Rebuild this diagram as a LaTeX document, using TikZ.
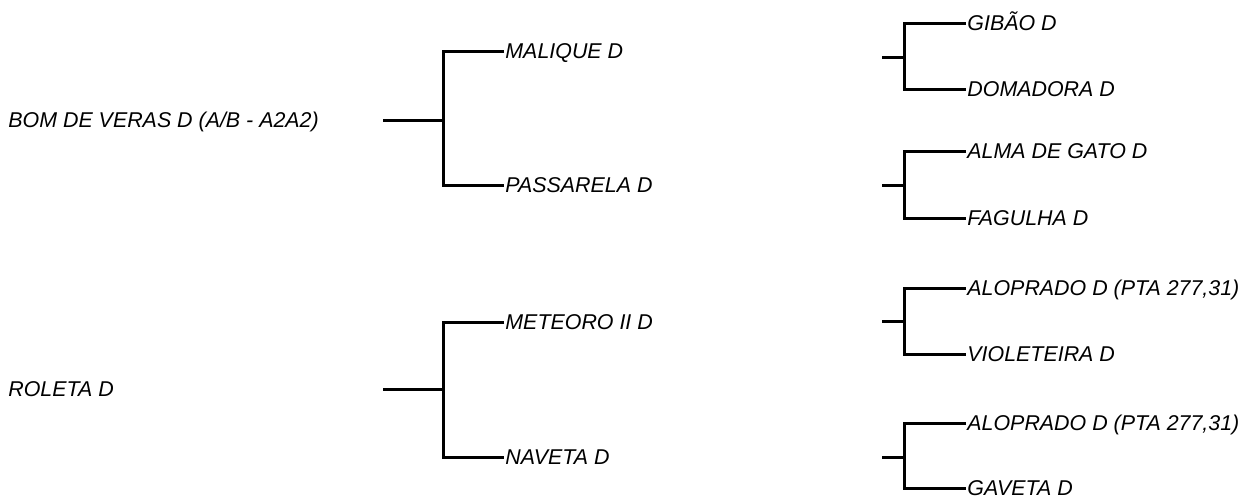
\documentclass[tikz,border=0pt]{standalone}
\usepackage{fontspec}
\setmainfont{Liberation Sans}

\tikzset{
  lbl/.style={anchor=west, inner sep=0.5pt, text height=7.7pt, text depth=0pt,
    font=\fontsize{10.7}{12}\selectfont\itshape},
  brk/.style={line width=1.5pt, color=black}
}

\begin{document}
\begin{tikzpicture}[x=0.5pt,y=-0.5pt]
  \useasboundingbox (0,0) rectangle (1243,498);

  % sires
  \node [lbl] (bom) at (7,120) {BOM DE VERAS D (A/B - A2A2)};
  \node [lbl] (roleta) at (7,389) {ROLETA D};

  % parents
  \node [lbl] (malique) at (504,51) {MALIQUE D};
  \node [lbl] (passarela) at (504,185) {PASSARELA D};
  \node [lbl] (meteoro) at (504,322) {METEORO II D};
  \node [lbl] (naveta) at (504,457) {NAVETA D};

  % grandparents
  \node [lbl] (gibao) at (966,23) {GIBÃO D};
  \node [lbl] (domadora) at (966,89) {DOMADORA D};
  \node [lbl] (alma) at (966,151) {ALMA DE GATO D};
  \node [lbl] (fagulha) at (966,218) {FAGULHA D};
  \node [lbl] (aloprado) at (966,288) {ALOPRADO D (PTA 277,31)};
  \node [lbl] (violeteira) at (966,354) {VIOLETEIRA D};
  \node [lbl] (alopradob) at (966,423) {ALOPRADO D (PTA 277,31)};
  \node [lbl] (gaveta) at (966,488) {GAVETA D};

  \coordinate (bomS) at (383,120);   \coordinate (bomJ) at (443,120);
  \coordinate (roletaS) at (383,389); \coordinate (roletaJ) at (443,389);
  \coordinate (maliqueS) at (882,57);    \coordinate (maliqueJ) at (904,57);
  \coordinate (passarelaS) at (882,185); \coordinate (passarelaJ) at (904,185);
  \coordinate (meteoroS) at (882,321);   \coordinate (meteoroJ) at (904,321);
  \coordinate (navetaS) at (882,457);    \coordinate (navetaJ) at (904,457);

  % brackets
  \draw [brk] (bomS) -- (bomJ);
  \draw [brk] (malique.west) -| (bomJ) |- (passarela.west);
  \draw [brk] (roletaS) -- (roletaJ);
  \draw [brk] (meteoro.west) -| (roletaJ) |- (naveta.west);

  \draw [brk] (maliqueS) -- (maliqueJ);
  \draw [brk] (gibao.west) -| (maliqueJ) |- (domadora.west);
  \draw [brk] (passarelaS) -- (passarelaJ);
  \draw [brk] (alma.west) -| (passarelaJ) |- (fagulha.west);
  \draw [brk] (meteoroS) -- (meteoroJ);
  \draw [brk] (aloprado.west) -| (meteoroJ) |- (violeteira.west);
  \draw [brk] (navetaS) -- (navetaJ);
  \draw [brk] (alopradob.west) -| (navetaJ) |- (gaveta.west);
\end{tikzpicture}
\end{document}
